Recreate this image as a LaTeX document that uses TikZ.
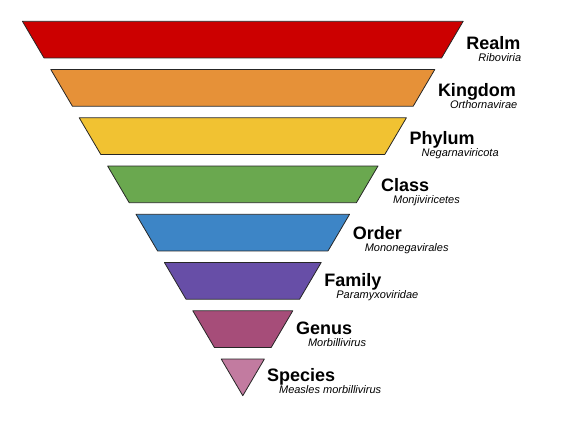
\documentclass[tikz,border=0pt]{standalone}
\usepackage{fontspec}
\setsansfont{Liberation Sans}
\usepackage{tikz}
\definecolor{realmred}{HTML}{CC0000}
\definecolor{kingdomorange}{HTML}{E69138}
\definecolor{phylumyellow}{HTML}{F1C232}
\definecolor{classgreen}{HTML}{6AA84F}
\definecolor{orderblue}{HTML}{3D85C6}
\definecolor{familypurple}{HTML}{674EA7}
\definecolor{genusmagenta}{HTML}{A64D79}
\definecolor{speciespink}{HTML}{C27BA0}

\begin{document}
\begin{tikzpicture}
[x=1pt, y=-1pt,
band/.style={draw=black!85, line width = 0.8pt, line join = round},
realm/.style={band, fill=realmred},
kingdom/.style={band, fill=kingdomorange},
phylum/.style={band, fill=phylumyellow},
class/.style={band, fill=classgreen},
order/.style={band, fill=orderblue},
family/.style={band, fill=familypurple},
genus/.style={band, fill=genusmagenta},
species/.style={band, fill=speciespink},
rank/.style={anchor=base west, inner sep=0pt, font=\sffamily\bfseries\fontsize{18}{20}\selectfont},
taxon/.style={anchor=base west, inner sep=0pt, font=\sffamily\itshape\fontsize{11}{13}\selectfont}]
\useasboundingbox (0,0) rectangle (568,426);
\draw[realm] (22.4,21.25) -- (463.2,21.25) -- (441.6,57.95) -- (44,57.95) -- cycle;
\node[rank] (realm label) at (466.2,49.25) {Realm};
\node[taxon] (realm name) at (478.2,61.25) {Riboviria};
\draw[kingdom] (50.8,69.5) -- (434.8,69.5) -- (413.2,106.2) -- (72.4,106.2) -- cycle;
\node[rank] (kingdom label) at (437.8,96.75) {Kingdom};
\node[taxon] (kingdom name) at (449.8,108.75) {Orthornavirae};
\draw[phylum] (79.2,117.75) -- (406.4,117.75) -- (384.8,154.45) -- (100.8,154.45) -- cycle;
\node[rank] (phylum label) at (409.4,144.25) {Phylum};
\node[taxon] (phylum name) at (421.4,156.25) {Negarnaviricota};
\draw[class] (107.6,166) -- (378,166) -- (356.4,202.7) -- (129.2,202.7) -- cycle;
\node[rank] (class label) at (381,191.75) {Class};
\node[taxon] (class name) at (393,203.75) {Monjiviricetes};
\draw[order] (136,214.25) -- (349.6,214.25) -- (328,250.95) -- (157.6,250.95) -- cycle;
\node[rank] (order label) at (352.6,239.25) {Order};
\node[taxon] (order name) at (364.6,251.25) {Mononegavirales};
\draw[family] (164.4,262.5) -- (321.2,262.5) -- (299.6,299.2) -- (186,299.2) -- cycle;
\node[rank] (family label) at (324.2,286.75) {Family};
\node[taxon] (family name) at (336.2,298.75) {Paramyxoviridae};
\draw[genus] (192.8,310.75) -- (292.8,310.75) -- (271.2,347.45) -- (214.4,347.45) -- cycle;
\node[rank] (genus label) at (295.8,334.25) {Genus};
\node[taxon] (genus name) at (307.8,346.25) {Morbillivirus};
\draw[species] (221.2,359) -- (264.4,359) -- (242.8,395.7) -- cycle;
\node[rank] (species label) at (266.9,381.75) {Species};
\node[taxon] (species name) at (278.9,393.75) {Measles morbillivirus};
\end{tikzpicture}
\end{document}
